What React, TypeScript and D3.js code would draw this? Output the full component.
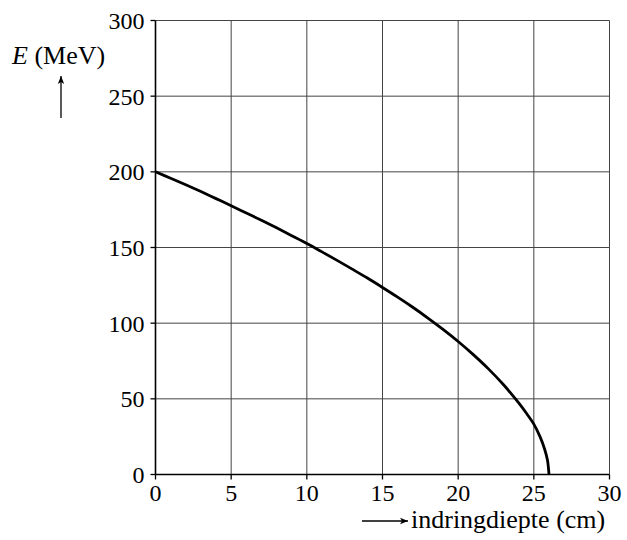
import React from "react";
import * as d3 from "d3";

const depth = [0, 1, 2, 3, 4, 5, 6, 7, 8, 9, 10, 11, 12, 13, 14, 15, 16, 17, 18, 19, 20, 21, 22, 23, 24, 24.5, 25, 25.4, 25.7, 25.9, 26];
const energy = [200, 195.8, 191.5, 187, 182.3, 177.6, 172.8, 168, 163, 157.8, 152.6, 147.1, 141.5, 135.7, 129.8, 123.6, 117.2, 110.5, 103.4, 95.9, 87.9, 79.2, 69.8, 59.3, 47.3, 40.6, 33.3, 25.2, 17.2, 9.5, 0];
const xTicks = [0, 5, 10, 15, 20, 25, 30];
const yTicks = [0, 50, 100, 150, 200, 250, 300];

const W = 627, H = 540;
const x0 = 155.5, x1 = 609.5, yTop = 20.5, yBot = 474.5;
const FONT = "Liberation Serif, Times New Roman, DejaVu Serif, serif";

export default function App() {
  const x = d3.scaleLinear().domain([0, 30]).range([x0, x1]);
  const y = d3.scaleLinear().domain([0, 300]).range([yBot, yTop]);
  const pts = depth.map((d, i) => [d, energy[i]] as [number, number]);
  const line = d3.line<[number, number]>().x(d => x(d[0])).y(d => y(d[1])).curve(d3.curveCatmullRom.alpha(0.5));
  const ts = { fontFamily: FONT } as React.CSSProperties;
  return (
    <svg width={W} height={H} style={{ position: "absolute", left: 0, top: 0, background: "#fff", fontFamily: FONT }}>
      <defs>
        <marker id="ah" viewBox="0 0 10 10" refX="10" refY="5" markerWidth="8" markerHeight="8" markerUnits="userSpaceOnUse" orient="auto">
          <path d="M0,1 L10,5 L0,9 L2.5,5 Z" fill="#000" />
        </marker>
      </defs>
      {xTicks.slice(1).map(t => (
        <line key={"gx" + t} x1={x(t)} x2={x(t)} y1={yTop} y2={yBot} stroke="#444" strokeWidth={1} />
      ))}
      {yTicks.slice(1).map(t => (
        <line key={"gy" + t} x1={x0} x2={x1} y1={y(t)} y2={y(t)} stroke="#444" strokeWidth={1} />
      ))}
      <line x1={x0} x2={x0} y1={yTop} y2={yBot} stroke="#000" strokeWidth={1.6} />
      <line x1={x0} x2={x1} y1={yBot} y2={yBot} stroke="#000" strokeWidth={1.6} />
      {yTicks.map(t => (
        <g key={"ty" + t}>
          <line x1={x0 - 5} x2={x0} y1={y(t)} y2={y(t)} stroke="#000" strokeWidth={1.3} />
          <text x={x0 - 11} y={y(t)} dy="0.35em" textAnchor="end" fontSize={24} style={ts}>{t}</text>
        </g>
      ))}
      {xTicks.map(t => (
        <g key={"tx" + t}>
          <line x1={x(t)} x2={x(t)} y1={yBot} y2={yBot + 5} stroke="#000" strokeWidth={1.3} />
          <text x={x(t)} y={501} textAnchor="middle" fontSize={24} style={ts}>{t}</text>
        </g>
      ))}
      <path d={line(pts) || ""} fill="none" stroke="#000" strokeWidth={2.8} strokeLinejoin="round" />
      <text x={12} y={64} fontSize={26} style={ts}>
        <tspan fontStyle="italic">E</tspan> (MeV)
      </text>
      <line x1={61} x2={61} y1={118} y2={76} stroke="#000" strokeWidth={1.3} markerEnd="url(#ah)" />
      <line x1={362} x2={408} y1={521} y2={521} stroke="#000" strokeWidth={1.3} markerEnd="url(#ah)" />
      <text x={411} y={528} fontSize={26} style={ts}>indringdiepte (cm)</text>
    </svg>
  );
}
